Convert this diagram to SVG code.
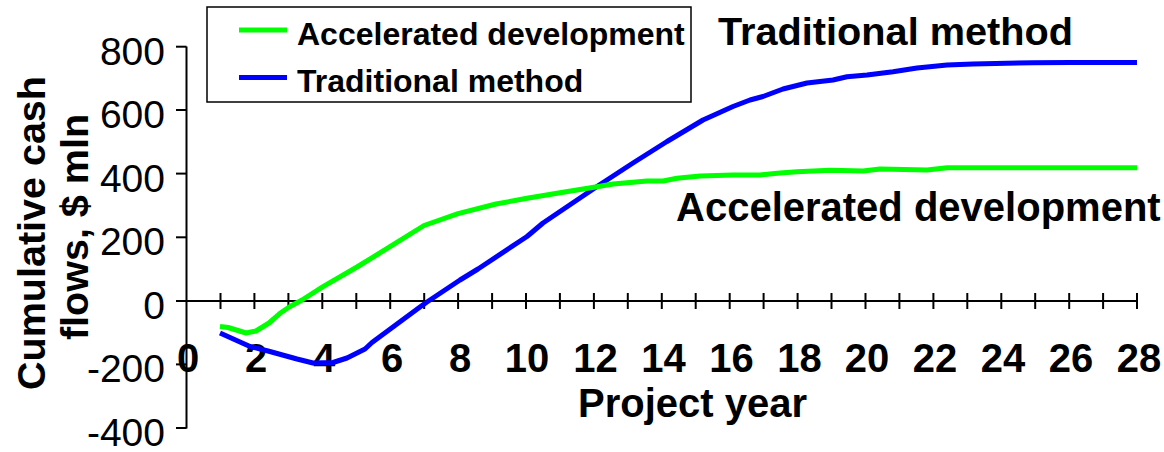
<svg xmlns="http://www.w3.org/2000/svg" width="1164" height="452" viewBox="0 0 1164 452">
<style>
  .ax { stroke:#000; stroke-width:2; fill:none; }
  .tk { stroke:#000; stroke-width:2; }
  .yl { font-family:"Liberation Sans",Arial,sans-serif; font-size:39px; fill:#000; text-anchor:end; }
  .xl { font-family:"Liberation Sans",Arial,sans-serif; font-size:40px; font-weight:bold; fill:#000; text-anchor:middle; }
  .b { font-family:"Liberation Sans",Arial,sans-serif; font-weight:bold; fill:#000; }
  .acc { stroke:#00FF00; stroke-width:5; fill:none; stroke-linejoin:round; stroke-linecap:butt; }
  .trad { stroke:#0000FF; stroke-width:5; fill:none; stroke-linejoin:round; stroke-linecap:butt; }
</style>
<rect width="1164" height="452" fill="#fff"/>

<g id="axes">
  <line class="ax" x1="186.5" y1="46.5" x2="186.5" y2="428.5"/>
  <line class="ax" x1="176" y1="301" x2="1137" y2="301"/>
  <g id="y-ticks">
    <line class="tk" x1="176" y1="46.7" x2="186.5" y2="46.7"/>
    <line class="tk" x1="176" y1="110" x2="186.5" y2="110"/>
    <line class="tk" x1="176" y1="173.6" x2="186.5" y2="173.6"/>
    <line class="tk" x1="176" y1="237.3" x2="186.5" y2="237.3"/>
    <line class="tk" x1="176" y1="364.4" x2="186.5" y2="364.4"/>
    <line class="tk" x1="176" y1="428" x2="186.5" y2="428"/>
  </g>
  <g id="x-ticks">
    <line class="tk" x1="220.5" y1="293" x2="220.5" y2="309"/>
    <line class="tk" x1="254.4" y1="293" x2="254.4" y2="309"/>
    <line class="tk" x1="288.4" y1="293" x2="288.4" y2="309"/>
    <line class="tk" x1="322.3" y1="293" x2="322.3" y2="309"/>
    <line class="tk" x1="356.3" y1="293" x2="356.3" y2="309"/>
    <line class="tk" x1="390.2" y1="293" x2="390.2" y2="309"/>
    <line class="tk" x1="424.2" y1="293" x2="424.2" y2="309"/>
    <line class="tk" x1="458.1" y1="293" x2="458.1" y2="309"/>
    <line class="tk" x1="492.1" y1="293" x2="492.1" y2="309"/>
    <line class="tk" x1="526" y1="293" x2="526" y2="309"/>
    <line class="tk" x1="559.9" y1="293" x2="559.9" y2="309"/>
    <line class="tk" x1="593.9" y1="293" x2="593.9" y2="309"/>
    <line class="tk" x1="627.8" y1="293" x2="627.8" y2="309"/>
    <line class="tk" x1="661.8" y1="293" x2="661.8" y2="309"/>
    <line class="tk" x1="695.7" y1="293" x2="695.7" y2="309"/>
    <line class="tk" x1="729.7" y1="293" x2="729.7" y2="309"/>
    <line class="tk" x1="763.6" y1="293" x2="763.6" y2="309"/>
    <line class="tk" x1="797.6" y1="293" x2="797.6" y2="309"/>
    <line class="tk" x1="831.5" y1="293" x2="831.5" y2="309"/>
    <line class="tk" x1="865.5" y1="293" x2="865.5" y2="309"/>
    <line class="tk" x1="899.4" y1="293" x2="899.4" y2="309"/>
    <line class="tk" x1="933.4" y1="293" x2="933.4" y2="309"/>
    <line class="tk" x1="967.3" y1="293" x2="967.3" y2="309"/>
    <line class="tk" x1="1001.3" y1="293" x2="1001.3" y2="309"/>
    <line class="tk" x1="1035.2" y1="293" x2="1035.2" y2="309"/>
    <line class="tk" x1="1069.2" y1="293" x2="1069.2" y2="309"/>
    <line class="tk" x1="1103.1" y1="293" x2="1103.1" y2="309"/>
    <line class="tk" x1="1137" y1="293" x2="1137" y2="309"/>
  </g>
  <g id="y-labels">
    <text class="yl" x="165" y="65">800</text>
    <text class="yl" x="165" y="128">600</text>
    <text class="yl" x="165" y="191.6">400</text>
    <text class="yl" x="165" y="255">200</text>
    <text class="yl" x="165" y="319">0</text>
    <text class="yl" x="165" y="382.4">-200</text>
    <text class="yl" x="165" y="446">-400</text>
  </g>
  <g id="x-labels">
    <text class="xl" x="188" y="372">0</text>
    <text class="xl" x="256" y="372">2</text>
    <text class="xl" x="324" y="372">4</text>
    <text class="xl" x="392" y="372">6</text>
    <text class="xl" x="460" y="372">8</text>
    <text class="xl" x="527" y="372">10</text>
    <text class="xl" x="595.5" y="372">12</text>
    <text class="xl" x="663.5" y="372">14</text>
    <text class="xl" x="731.5" y="372">16</text>
    <text class="xl" x="799.5" y="372">18</text>
    <text class="xl" x="867" y="372">20</text>
    <text class="xl" x="935" y="372">22</text>
    <text class="xl" x="1003" y="372">24</text>
    <text class="xl" x="1071" y="372">26</text>
    <text class="xl" x="1139" y="372">28</text>
  </g>
  <text id="x-title" class="b" x="692.5" y="417" font-size="40" text-anchor="middle">Project year</text>
  <g id="y-title">
    <text class="b" font-size="39.5" text-anchor="middle" transform="translate(45,233) rotate(-90)">Cumulative cash</text>
    <text class="b" font-size="39.5" text-anchor="middle" transform="translate(88,227) rotate(-90)">flows, $ mln</text>
  </g>
</g>

<g id="series">
  <polyline id="traditional-curve" class="trad" points="220,333 250,346.5 268,351 297,359 313,363 333,362.5 347,358 365,349 372,342.5 420,307 427,302 460,280 478,269 527,236.5 543,223 597,186.5 633,163 667,141.5 703,120 733,106.5 750,100 763,96.5 783,89 807,83 833,80 847,76.7 867,75 893,71.7 917,68 947,65 973,64 1033,62.7 1070,62.5 1137,62.5"/>
  <polyline id="accelerated-curve" class="acc" points="220,326.5 228,327.5 246,333 256,331 269,323 280,313.3 290,306.5 302,300 323,286.7 357,267 390,246.7 424,225.5 458,213.6 496,204 527,198.3 560,192.7 597,186.7 613,184 647,181 663,181 677,178.3 700,176 733,175 760,175 780,173 797,171.7 830,170.3 863,171 880,169 927,170 947,167.7 1137,167.7"/>
</g>

<g id="legend">
  <rect x="207" y="7" width="484" height="95" fill="#fff" stroke="#000" stroke-width="1.5"/>
  <line class="acc" x1="239" y1="30" x2="287" y2="30"/>
  <line class="trad" x1="239" y1="77.5" x2="287" y2="77.5"/>
  <text class="b" x="297" y="45" font-size="32">Accelerated development</text>
  <text class="b" x="297" y="92" font-size="32">Traditional method</text>
</g>

<g id="annotations">
  <text id="label-traditional" class="b" x="718" y="45" font-size="39" textLength="355" lengthAdjust="spacingAndGlyphs">Traditional method</text>
  <text id="label-accelerated" class="b" x="676" y="221" font-size="40">Accelerated development</text>
</g>
</svg>
